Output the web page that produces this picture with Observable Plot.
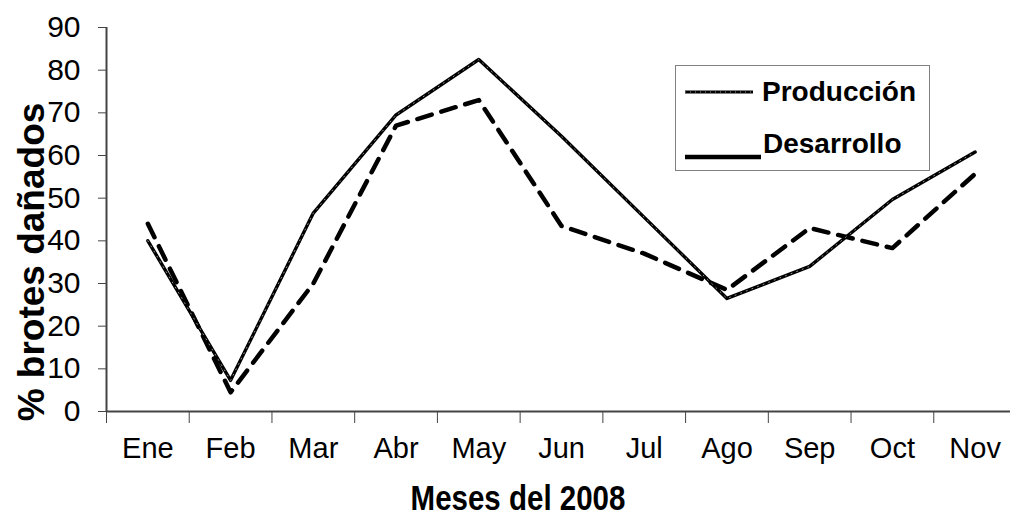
<!DOCTYPE html>
<html>
<head>
<meta charset="utf-8">
<script src="https://cdn.jsdelivr.net/npm/d3@7"></script>
<script src="https://cdn.jsdelivr.net/npm/@observablehq/plot@0.6"></script>
<style>
  html, body { margin: 0; padding: 0; background: #fff; overflow: hidden; }
  #wrap { position: relative; width: 1010px; height: 519px; font-family: "Liberation Sans", Arial, sans-serif; }
  #legend { position: absolute; left: 675px; top: 65px; width: 255px; height: 106px; border: 1px solid #808080; background: #fff; box-sizing: border-box; }
  .li { position: absolute; font-weight: bold; font-size: 28px; line-height: 1; color: #000; white-space: nowrap; }
</style>
</head>
<body>
<div id="wrap"></div>
<script>
const months = ["Ene","Feb","Mar","Abr","May","Jun","Jul","Ago","Sep","Oct","Nov"];
const produccion = [40, 7.3, 46.5, 69.5, 82.5, 64.5, 45.5, 26.5, 34, 49.7, 60.8];
const desarrollo = [44, 4.5, 30, 67, 73, 43.5, 37, 28.5, 43, 38.3, 55.7];
const yTicks = [0,10,20,30,40,50,60,70,80,90];
const seriesNames = ["Producción", "Desarrollo"];

const rows = months.flatMap((m, i) => [
  {i, month: m, value: produccion[i], serie: seriesNames[0]},
  {i, month: m, value: desarrollo[i], serie: seriesNames[1]}
]);
const prod = rows.filter(d => d.serie === seriesNames[0]);
const des = rows.filter(d => d.serie === seriesNames[1]);
const idx = months.map((m, i) => i);
const edges = d3.range(-0.5, months.length, 1);

const plot = Plot.plot({
  width: 1010,
  height: 519,
  marginLeft: 106,
  marginRight: -6,
  marginTop: 27,
  marginBottom: 108,
  style: {fontFamily: '"Liberation Sans", Arial, sans-serif', background: "#fff", overflow: "hidden"},
  x: {type: "linear", domain: [-0.5, months.length - 0.5]},
  y: {domain: [0, 90]},
  marks: [
    Plot.axisY({ticks: yTicks, tickSize: 8, tickPadding: 18, fontSize: 30, stroke: "#444", label: null, color: "#000"}),
    Plot.axisX({ticks: edges, tickSize: 12, tickFormat: () => "", stroke: "#444", label: null}),
    Plot.axisX({ticks: idx, tickSize: 0, tickPadding: 26, fontSize: 29, tickFormat: i => months[i], label: null, color: "#000"}),
    Plot.ruleX([-0.5], {stroke: "#444", strokeWidth: 2}),
    Plot.ruleY([0], {stroke: "#444", strokeWidth: 2}),
    Plot.line(des, {x: "i", y: "value", stroke: "#000", strokeWidth: 4.5, strokeDasharray: "15,10"}),
    Plot.line(prod, {x: "i", y: "value", stroke: "#000", strokeWidth: 3.4}),
    Plot.line(prod, {x: "i", y: "value", stroke: "#bbb", strokeWidth: 0.8, strokeDasharray: "1,5"})
  ]
});

const wrap = document.getElementById("wrap");
wrap.appendChild(plot);

const svg = d3.select(plot);
svg.append("text")
  .attr("transform", "translate(518,510) scale(0.82,1)")
  .attr("text-anchor", "middle")
  .attr("font-weight", "bold").attr("font-size", 36)
  .attr("fill", "#000")
  .text("Meses del 2008");
svg.append("text")
  .attr("transform", "translate(44,262) rotate(-90)")
  .attr("text-anchor", "middle")
  .attr("font-weight", "bold").attr("font-size", 37)
  .attr("fill", "#000")
  .text("% brotes dañados");

// legend
const legend = document.createElement("div");
legend.id = "legend";
wrap.appendChild(legend);
const lsvg = d3.select(legend).append("svg")
  .attr("width", 255).attr("height", 106)
  .style("position", "absolute").style("left", "-1px").style("top", "-1px");
lsvg.append("line").attr("x1", 10).attr("x2", 78).attr("y1", 27).attr("y2", 27)
  .attr("stroke", "#000").attr("stroke-width", 3);
lsvg.append("line").attr("x1", 10).attr("x2", 78).attr("y1", 27).attr("y2", 27)
  .attr("stroke", "#bbb").attr("stroke-width", 0.8).attr("stroke-dasharray", "1,4");
lsvg.append("line").attr("x1", 10).attr("x2", 86).attr("y1", 92).attr("y2", 92)
  .attr("stroke", "#000").attr("stroke-width", 4.5);
seriesNames.forEach((name, k) => {
  const t = document.createElement("div");
  t.className = "li";
  t.textContent = name;
  t.style.left = (k === 0 ? 86 : 87) + "px";
  t.style.top = (k === 0 ? 12 : 64) + "px";
  legend.appendChild(t);
});
</script>
</body>
</html>
